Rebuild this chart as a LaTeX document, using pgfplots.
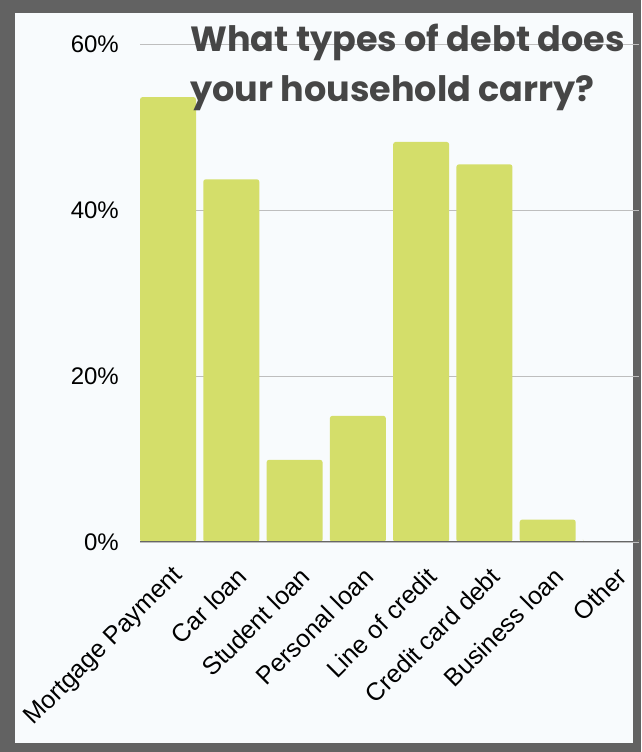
\documentclass[border=0pt]{standalone}
\usepackage{pgfplots}
\pgfplotsset{compat=1.18}
\usepackage{fontspec}
\setmainfont{Liberation Sans}
\newfontfamily\titlefont{Poppins}
\definecolor{borderGray}{RGB}{98,98,98}
\definecolor{panelBg}{RGB}{248,251,253}
\definecolor{barCol}{RGB}{212,222,106}
\definecolor{gridCol}{RGB}{190,190,190}
\definecolor{axisCol}{RGB}{102,102,102}
\definecolor{titleCol}{RGB}{70,70,70}
\begin{document}
\begin{tikzpicture}[x=1pt,y=1pt]
\fill[borderGray] (0,0) rectangle (641,752);
\fill[panelBg] (15,9) rectangle (633,739);
\begin{axis}[
  at={(140pt,210pt)}, anchor=south west,
  scale only axis, width=499pt, height=498pt,
  xmin=-0.4425, xmax=7.4425, ymin=0, ymax=60,
  axis line style={draw=none},
  tick style={draw=none},
  ytick={0,20,40,60},
  yticklabel={\pgfmathprintnumber{\tick}\%},
  yticklabel style={font=\fontsize{24}{28}\selectfont, inner sep=0pt, xshift=-21pt},
  ymajorgrids, grid style={gridCol, line width=0.8pt},
  xtick={0,...,7},
  xticklabels={Mortgage Payment,Car loan,Student loan,Personal loan,Line of credit,Credit card debt,Business loan,Other},
  xticklabel style={font=\fontsize{25}{30}\selectfont, inner sep=0pt, xshift=11pt, yshift=-30pt, rotate=45, anchor=east},
  /pgf/number format/assume math mode=true,
  clip=false,
]
\addplot[ybar, bar width=0.885, fill=barCol, draw=none, rounded corners=2.5pt] coordinates {
  (0,53.6) (1,43.7) (2,9.9) (3,15.2) (4,48.2) (5,45.5) (6,2.7) (7,0)
};
\draw[axisCol, line width=1pt] (axis cs:-0.4425,0) -- (axis cs:7.4425,0);
\end{axis}
\node[anchor=base west, inner sep=0pt, text=titleCol, font=\titlefont\bfseries\fontsize{35}{42}\selectfont] at (190,700) {What types of debt does};
\node[anchor=base west, inner sep=0pt, text=titleCol, font=\titlefont\bfseries\fontsize{35}{42}\selectfont] at (190,650) {your household carry?};
\pgfresetboundingbox
\path[use as bounding box] (0,0) rectangle (641,752);
\end{tikzpicture}
\end{document}
